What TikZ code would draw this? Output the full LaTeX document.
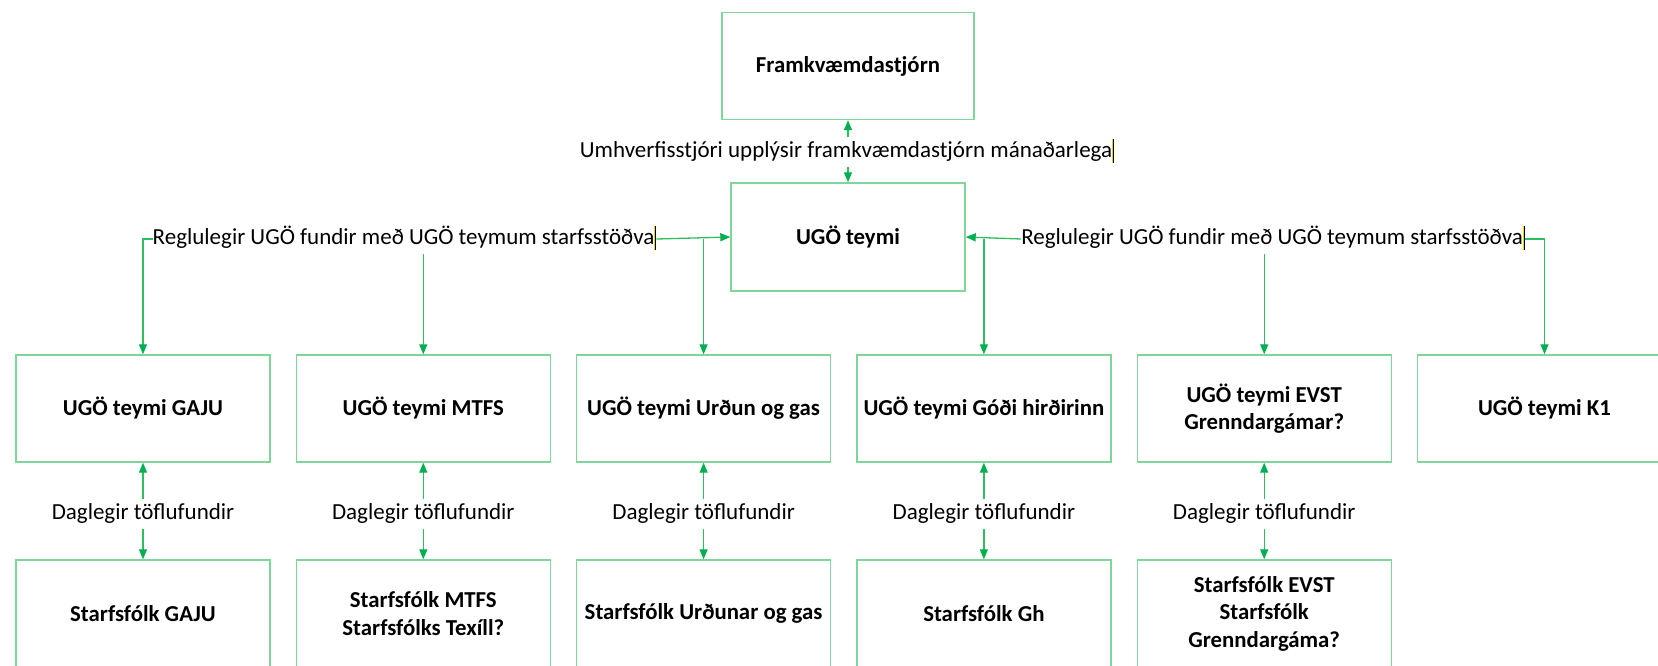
\documentclass[tikz,border=0pt]{standalone}
\usepackage{fontspec}
\setmainfont{Carlito}
\usetikzlibrary{arrows.meta}
\definecolor{boxgreen}{HTML}{7ED69A}
\definecolor{linegreen}{HTML}{2DBE5E}
\definecolor{tipgreen}{HTML}{00B050}
\definecolor{cursoryellow}{HTML}{E8D800}
\newcommand{\cursorbar}{\textcolor{cursoryellow}{\rule[-6pt]{1pt}{24pt}}\rule[-6pt]{0.9pt}{24pt}}
\begin{document}
\begin{tikzpicture}[x=1pt,y=-1pt,
  box/.style={draw=boxgreen, line width=1.4pt, minimum width=254pt, minimum height=107pt,
    align=center, inner sep=0pt, font=\fontsize{22.8}{27.5}\selectfont\bfseries},
  lbl/.style={font=\fontsize{23}{27}\selectfont, inner xsep=0pt, inner ysep=5pt,
    text height=15pt, text depth=5pt},
  conn/.style={draw=linegreen, line width=1.3pt},
  arr/.style={conn, -{Triangle[length=10pt,width=8pt,color=tipgreen]}}
]
\useasboundingbox (0,0) rectangle (1658,665);

% top
\node[box, minimum width=252pt, minimum height=107pt] (fram) at (848,66) {\raisebox{-2pt}{Framkvæmdastjórn}};
\node[box, minimum width=234pt, minimum height=108pt] (ugo) at (848,237) {\raisebox{-1.5pt}{UGÖ teymi}};
\node[lbl] (top) at (847,152) {Umhverfisstjóri upplýsir framkvæmdastjórn mánaðarlega\cursorbar};
\draw[arr] (top.north -| fram.south) -- (fram.south);
\draw[arr] (top.south -| ugo.north) -- (ugo.north);

% row 2
\node[box] (g1) at (143,408.5) {UGÖ teymi GAJU};
\node[box] (g2) at (423.3,408.5) {UGÖ teymi MTFS};
\node[box] (g3) at (703.6,408.5) {UGÖ teymi Urðun og gas};
\node[box] (g4) at (983.9,408.5) {UGÖ teymi Góði hirðirinn};
\node[box] (g5) at (1264.2,408.5) {UGÖ teymi EVST\\Grenndargámar?};
\node[box] (g6) at (1544.5,408.5) {UGÖ teymi K1};

% row 3
\node[box] (s1) at (143,613.5) {Starfsfólk GAJU};
\node[box] (s2) at (423.3,613.5) {Starfsfólk MTFS\\Starfsfólks Texíll?};
\node[box] (s3) at (703.6,613.5) {Starfsfólk Urðunar og gas};
\node[box] (s4) at (983.9,613.5) {Starfsfólk Gh};
\node[box] (s5) at (1264.2,613.5) {Starfsfólk EVST\\Starfsfólk\\Grenndargáma?};

% meeting labels
\node[lbl] (lL) at (404.5,239) {Reglulegir UGÖ fundir með UGÖ teymum starfsstöðva\cursorbar};
\node[lbl] (rL) at (1273,239) {Reglulegir UGÖ fundir með UGÖ teymum starfsstöðva\cursorbar};

\draw[arr] (lL.east) -- (ugo.west);
\draw[arr] (lL.west) -| (g1.north);
\draw[arr] (lL.south -| g2.north) -- (g2.north);
\draw[arr] (lL.east -| g3.north) -- (g3.north);

\draw[arr] (rL.west) -- (ugo.east);
\draw[arr] (rL.west -| g4.north) -- (g4.north);
\draw[arr] (rL.south -| g5.north) -- (g5.north);
\draw[arr] (rL.east) -| (g6.north);

% daily
\foreach \i in {1,...,5} {
  \node[lbl] (d\i) at (g\i.south |- 0,514) {Daglegir töflufundir};
  \draw[arr] (d\i.north) -- (g\i.south);
  \draw[arr] (d\i.south) -- (s\i.north);
}
\end{tikzpicture}
\end{document}
